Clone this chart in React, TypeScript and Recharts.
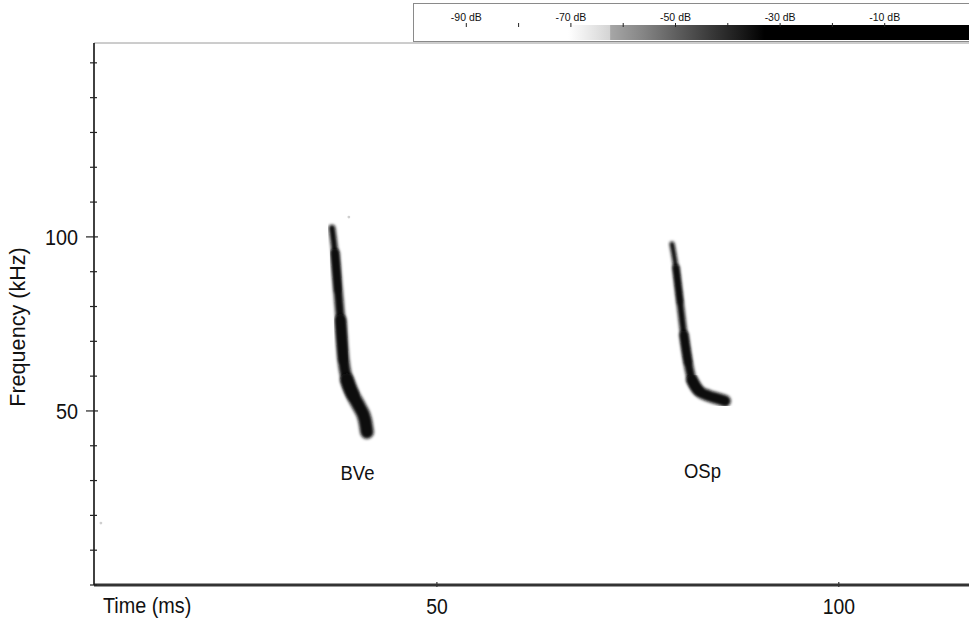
import React from "react";
import {
  ComposedChart,
  XAxis,
  YAxis,
  Line,
  Area,
  Scatter,
  ReferenceLine,
} from "recharts";

const FONT = "'Liberation Sans', Arial, Helvetica, sans-serif";

// call contours (t in ms, f in kHz), split into
// overlapping pieces so the trace can get wider towards the low end
const bveA = [
  { t: 36.95, f: 102.56 },
  { t: 37.32, f: 95.37 },
  { t: 37.7, f: 84.74 },
];
const bveB = [
  { t: 37.32, f: 95.37 },
  { t: 37.7, f: 84.74 },
  { t: 38.01, f: 76.13 },
  { t: 38.38, f: 64.64 },
];
const bveC = [
  { t: 38.01, f: 76.13 },
  { t: 38.38, f: 64.64 },
  { t: 38.82, f: 58.89 },
  { t: 39.56, f: 54.58 },
];
const bveD = [
  { t: 38.82, f: 58.89 },
  { t: 39.56, f: 54.58 },
  { t: 40.43, f: 50.85 },
  { t: 41.06, f: 47.4 },
  { t: 41.3, f: 43.95 },
];

const ospA = [
  { t: 79.25, f: 97.96 },
  { t: 79.75, f: 91.07 },
  { t: 80.25, f: 81.3 },
];
const ospB = [
  { t: 79.75, f: 91.07 },
  { t: 80.25, f: 81.3 },
  { t: 80.74, f: 71.82 },
  { t: 81.24, f: 64.06 },
];
const ospC = [
  { t: 80.74, f: 71.82 },
  { t: 81.24, f: 64.06 },
  { t: 81.74, f: 58.89 },
  { t: 82.61, f: 55.73 },
];
const ospD = [
  { t: 81.74, f: 58.89 },
  { t: 82.61, f: 55.73 },
  { t: 83.86, f: 54.3 },
  { t: 85.1, f: 53.43 },
  { t: 85.85, f: 52.86 },
];

const noise = [
  { t: 8.2, f: 17.8 },
  { t: 39.05, f: 105.7 },
];

const callLabels = [
  { t: 40.12, f: 32.3, name: "BVe" },
  { t: 83.04, f: 32.75, name: "OSp" },
];

const timeDomain = [7.34, 116.2];
const freqDomain = [0, 155.7];
const timeTicks = [50, 100];
const freqTicks = [0, 10, 20, 30, 40, 50, 60, 70, 80, 90, 100, 110, 120, 130, 140, 150];
const freqLabels = [50, 100];

// colour bar
const dbDomain = [-100, 8.6];
const dbBand = [
  { db: -100, v: 1 },
  { db: 8.6, v: 1 },
];
const dbTicks = [-90, -80, -70, -60, -50, -40, -30, -20, -10];
const dbLabels = [-90, -70, -50, -30, -10];
const dbStops = [
  { db: -70.5, c: "#ffffff" },
  { db: -62.6, c: "#d4d4d4" },
  { db: -62.4, c: "#a6a6a6" },
  { db: -56.2, c: "#858585" },
  { db: -49.7, c: "#5e5e5e" },
  { db: -43.4, c: "#3a3a3a" },
  { db: -37.1, c: "#181818" },
  { db: -33.0, c: "#000000" },
];

function SquishText({ x, y, size, anchor = "middle", rotate, sx = 0.88, children }: any) {
  const tr = `translate(${x} ${y})` + (rotate ? ` rotate(${rotate})` : "") + ` scale(${sx} 1)`;
  return (
    <text transform={tr} x={0} y={0} textAnchor={anchor} fontSize={size} fill="#111" fontFamily={FONT}>
      {children}
    </text>
  );
}

const YTick = (props: any) => {
  const { x, y, payload } = props;
  const major = freqLabels.includes(payload.value);
  return (
    <g>
      <line x1={x - (major ? 8 : 4)} x2={x + (major ? 4 : 3)} y1={y} y2={y} stroke="#222" strokeWidth={1.2} />
      {major && (
        <SquishText x={x - 16} y={y + 8} size={22.5} anchor="end">
          {payload.value}
        </SquishText>
      )}
    </g>
  );
};

const XTick = (props: any) => {
  const { x, y, payload } = props;
  return (
    <g>
      <line x1={x} x2={x} y1={y - 3} y2={y + 2} stroke="#333" strokeWidth={1.2} />
      <SquishText x={x} y={y + 29} size={22}>
        {payload.value}
      </SquishText>
    </g>
  );
};

const DbTick = (props: any) => {
  const { x, y, payload } = props;
  const show = dbLabels.includes(payload.value);
  return (
    <g>
      <line x1={x} x2={x} y1={y - 2} y2={y + 2} stroke="#222" strokeWidth={1} />
      {show && (
        <text x={x} y={y - 4} textAnchor="middle" fontSize={10.5} fill="#111" fontFamily={FONT}>
          {payload.value} dB
        </text>
      )}
    </g>
  );
};

const LabelShape = (props: any) => (
  <SquishText x={props.cx} y={props.cy + 7.5} size={21}>
    {props.payload.name}
  </SquishText>
);

const NoiseShape = (props: any) => <circle cx={props.cx} cy={props.cy} r={1.4} fill="#cfcfcf" />;

const callStroke = "#0e0e0e";

const CallPiece = (data: any[], w: number, key: string) => (
  <Line
    key={key}
    className="call"
    data={data}
    dataKey="f"
    type="monotone"
    stroke={callStroke}
    strokeWidth={w}
    strokeLinecap="round"
    strokeLinejoin="round"
    dot={false}
    activeDot={false}
    isAnimationActive={false}
  />
);

export default function App() {
  const span = dbDomain[1] - dbDomain[0];
  return (
    <div
      style={{
        position: "absolute",
        left: 0,
        top: 0,
        width: 969,
        height: 619,
        overflow: "hidden",
        background: "#fff",
        fontFamily: FONT,
      }}
    >
      <style>{`.call path { filter: url(#soft); }`}</style>
      <svg width={0} height={0} style={{ position: "absolute" }}>
        <defs>
          <filter id="soft" x="-50%" y="-20%" width="200%" height="140%">
            <feGaussianBlur stdDeviation="1.4" />
          </filter>
          <linearGradient id="dbGrad" x1="0" y1="0" x2="1" y2="0">
            {dbStops.map((s, i) => (
              <stop key={i} offset={(s.db - dbDomain[0]) / span} stopColor={s.c} />
            ))}
          </linearGradient>
        </defs>
      </svg>

      <ComposedChart width={969} height={619} margin={{ top: 43, right: 0, bottom: 0, left: 0 }}>
        <XAxis
          type="number"
          dataKey="t"
          domain={timeDomain}
          ticks={timeTicks}
          allowDataOverflow
          height={34}
          tickSize={0}
          tickMargin={0}
          tickLine={false}
          tick={<XTick />}
          axisLine={{ stroke: "#333", strokeWidth: 3 }}
          label={{
            content: (p: any) => (
              <SquishText x={p.viewBox.x + 9} y={613} size={22.5} anchor="start">
                Time (ms)
              </SquishText>
            ),
          }}
        />
        <YAxis
          type="number"
          dataKey="f"
          domain={freqDomain}
          ticks={freqTicks}
          allowDataOverflow
          width={94}
          tickSize={0}
          tickMargin={0}
          tickLine={false}
          tick={<YTick />}
          axisLine={{ stroke: "#111", strokeWidth: 1.6 }}
          label={{
            content: () => (
              <SquishText x={25} y={327} size={22.5} rotate={-90} sx={0.96}>
                Frequency (kHz)
              </SquishText>
            ),
          }}
        />
        <ReferenceLine y={freqDomain[1]} stroke="#9a9a9a" strokeWidth={1} />

        {CallPiece(bveA, 6.5, "bveA")}
        {CallPiece(bveB, 9, "bveB")}
        {CallPiece(bveC, 11.5, "bveC")}
        {CallPiece(bveD, 13.5, "bveD")}

        {CallPiece(ospA, 5, "ospA")}
        {CallPiece(ospB, 7, "ospB")}
        {CallPiece(ospC, 9, "ospC")}
        {CallPiece(ospD, 11.5, "ospD")}

        <Scatter data={noise} dataKey="f" shape={<NoiseShape />} isAnimationActive={false} />
        <Scatter data={callLabels} dataKey="f" shape={<LabelShape />} isAnimationActive={false} />
      </ComposedChart>

      <div
        style={{
          position: "absolute",
          left: 413,
          top: 3,
          width: 570,
          height: 39,
          border: "1px solid #8a8a8a",
          boxSizing: "border-box",
          background: "#fff",
        }}
      >
        <ComposedChart width={568} height={37} data={dbBand} margin={{ top: 0, right: 0, bottom: 1, left: 0 }}>
          <XAxis
            type="number"
            dataKey="db"
            orientation="top"
            domain={dbDomain}
            ticks={dbTicks}
            allowDataOverflow
            height={21}
            tickSize={0}
            tickMargin={0}
            tickLine={false}
            axisLine={false}
            tick={<DbTick />}
          />
          <YAxis type="number" domain={[0, 1]} hide />
          <Area dataKey="v" type="linear" fill="url(#dbGrad)" fillOpacity={1} stroke="none" dot={false} activeDot={false} isAnimationActive={false} />
        </ComposedChart>
      </div>
    </div>
  );
}
